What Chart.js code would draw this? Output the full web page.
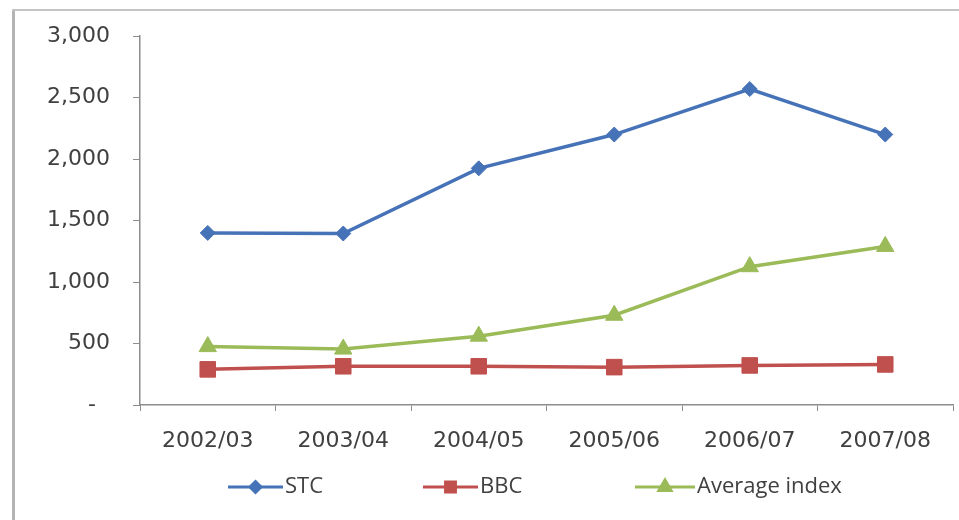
<!DOCTYPE html>
<html>
<head>
<meta charset="utf-8">
<script src="https://cdn.jsdelivr.net/npm/chart.js@4/dist/chart.umd.min.js"></script>
<style>
  html, body { margin: 0; padding: 0; background: #fff; }
  #wrap { width: 959px; height: 520px; position: relative; }
</style>
</head>
<body>
<div id="wrap"><canvas id="chart" width="959" height="520"></canvas></div>
<script>
const years = ['2002/03', '2003/04', '2004/05', '2005/06', '2006/07', '2007/08'];
const stc = [1400, 1395, 1925, 2200, 2570, 2200];
const bbc = [290, 315, 315, 308, 322, 330];
const avgIndex = [475, 455, 560, 730, 1125, 1290];
const yTicks = [0, 500, 1000, 1500, 2000, 2500, 3000];
const yTickLabels = ['-  ', '500', '1,000', '1,500', '2,000', '2,500', '3,000'];

const BLUE = '#4673b8';
const RED = '#c0504d';
const GREEN = '#9bbb59';

// gray frame on the left and top, like the cropped screenshot
const framePlugin = {
  id: 'frame',
  beforeDraw(chart) {
    const ctx = chart.ctx;
    ctx.save();
    ctx.fillStyle = '#fff';
    ctx.fillRect(0, 0, chart.width, chart.height);
    ctx.strokeStyle = '#b4b4b4';
    ctx.lineWidth = 3;
    ctx.beginPath();
    ctx.moveTo(13.5, 9);
    ctx.lineTo(13.5, chart.height);
    ctx.stroke();
    ctx.lineWidth = 2;
    ctx.strokeStyle = '#c4c4c4';
    ctx.beginPath();
    ctx.moveTo(12, 10);
    ctx.lineTo(chart.width, 10);
    ctx.stroke();
    ctx.restore();
  }
};

// legend drawn as line + marker, Excel style
const lineLegend = {
  id: 'lineLegend',
  afterDraw(chart) {
    const ctx = chart.ctx;
    const items = [
      { x: 228, w: 55, r: 5.5 },
      { x: 423, w: 55, r: 7 },
      { x: 635, w: 60, r: 7 }
    ];
    const y = 487;
    ctx.save();
    chart.data.datasets.forEach((ds, i) => {
      const it = items[i];
      ctx.strokeStyle = ds.borderColor;
      ctx.lineWidth = 3;
      ctx.beginPath();
      ctx.moveTo(it.x, y);
      ctx.lineTo(it.x + it.w, y);
      ctx.stroke();
      ctx.fillStyle = ds.backgroundColor;
      ctx.strokeStyle = ds.borderColor;
      Chart.helpers.drawPoint(ctx, {
        pointStyle: ds.pointStyle,
        radius: it.r,
        rotation: 0,
        borderWidth: 1
      }, it.x + it.w / 2, y);
      ctx.fillStyle = '#404040';
      ctx.font = '22px "Open Sans"';
      ctx.textBaseline = 'middle';
      ctx.textAlign = 'left';
      ctx.fillText(ds.label, it.x + it.w + 2, y);
    });
    ctx.restore();
  }
};

new Chart(document.getElementById('chart'), {
  type: 'line',
  data: {
    labels: years,
    datasets: [
      {
        label: 'STC', data: stc,
        borderColor: BLUE, backgroundColor: BLUE,
        borderWidth: 3.5, pointStyle: 'rectRot', pointRadius: 7.5, pointBorderWidth: 1
      },
      {
        label: 'BBC', data: bbc,
        borderColor: RED, backgroundColor: RED,
        borderWidth: 3.5, pointStyle: 'rect', pointRadius: 11, pointBorderWidth: 1
      },
      {
        label: 'Average index', data: avgIndex,
        borderColor: GREEN, backgroundColor: GREEN,
        borderWidth: 3.5, pointStyle: 'triangle', pointRadius: 10, pointBorderWidth: 1
      }
    ]
  },
  options: {
    responsive: false,
    animation: false,
    layout: { autoPadding: false, padding: { top: 35, right: 6, left: 0, bottom: 0 } },
    plugins: {
      legend: { display: false },
      tooltip: { enabled: false }
    },
    scales: {
      x: {
        offset: true,
        afterFit: s => {
          s.height = 115;
          s.paddingLeft = 0;
          s.paddingRight = 0;
        },
        border: { display: true, color: '#8c8c8c', width: 1.5 },
        grid: { offset: true, drawOnChartArea: false, drawTicks: true, tickLength: 6, color: '#8c8c8c' },
        ticks: {
          color: '#404040',
          padding: 17,
          font: { family: 'DejaVu Sans', size: 22 }
        }
      },
      y: {
        min: 0,
        max: 3000,
        afterFit: s => { s.width = 140; },
        afterBuildTicks: s => { s.ticks = yTicks.map(v => ({ value: v })); },
        border: { display: true, color: '#8c8c8c', width: 1.5 },
        grid: { drawOnChartArea: false, drawTicks: true, tickLength: 7, color: '#8c8c8c' },
        ticks: {
          color: '#404040',
          padding: 23,
          font: { family: 'DejaVu Sans', size: 22 },
          callback: v => yTickLabels[yTicks.indexOf(v)]
        }
      }
    }
  },
  plugins: [framePlugin, lineLegend]
});
</script>
</body>
</html>
